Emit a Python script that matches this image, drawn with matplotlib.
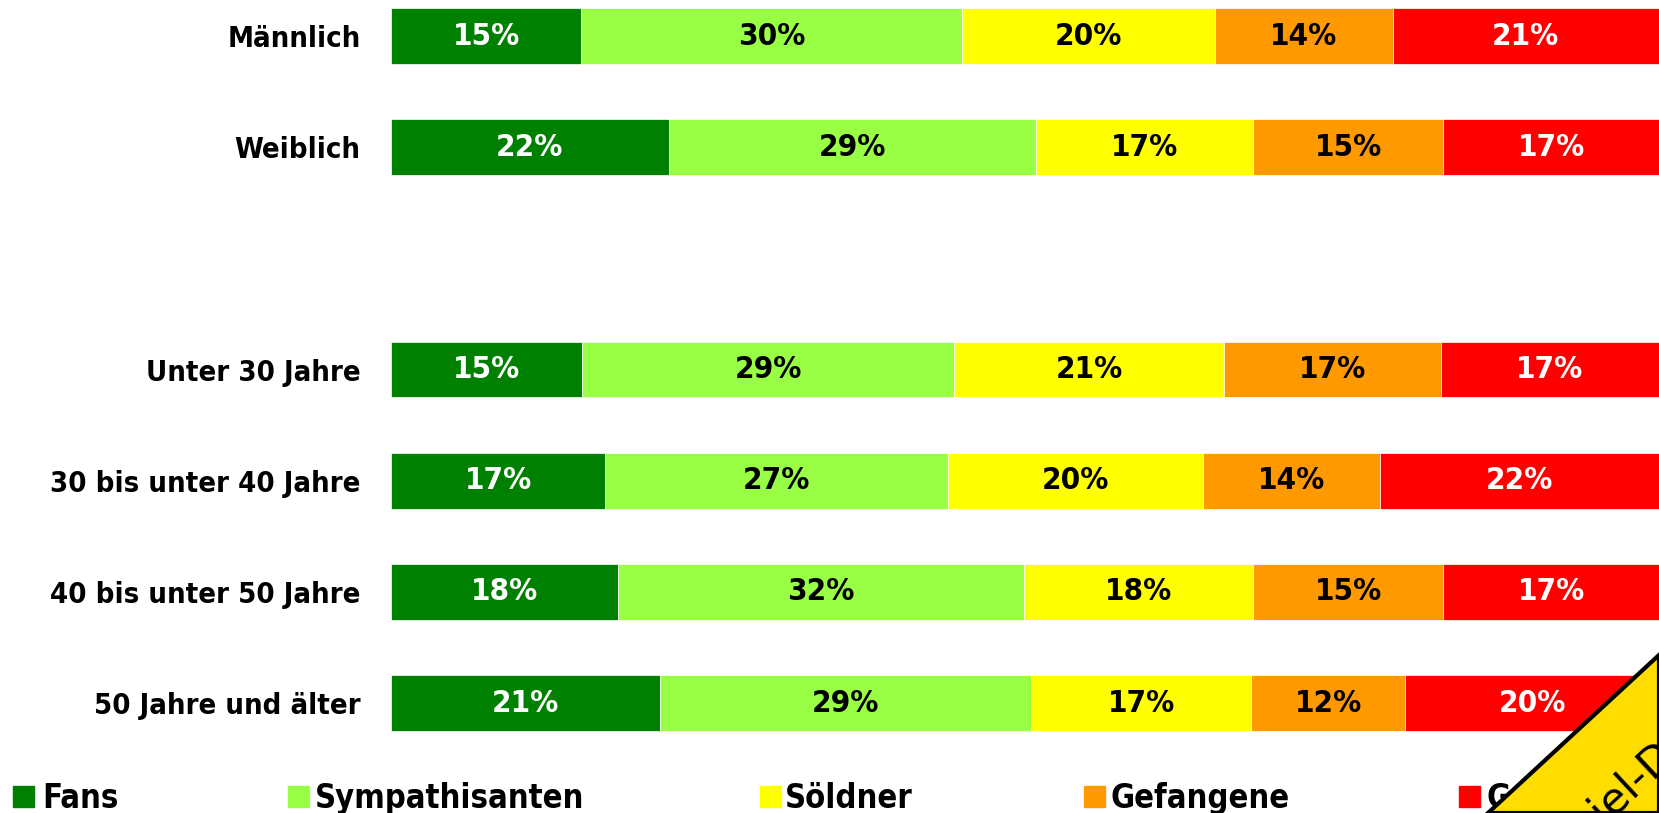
import matplotlib.pyplot as plt
from matplotlib.patches import Rectangle, Polygon
import numpy as np

plt.rcParams['font.family'] = ['DejaVu Sans']
plt.rcParams['font.stretch'] = 'condensed'

# data
groups = ["Männlich", "Weiblich", "Unter 30 Jahre", "30 bis unter 40 Jahre",
          "40 bis unter 50 Jahre", "50 Jahre und älter"]
slots = [0, 1, 3, 4, 5, 6]   # one empty row between gender and age
series = ["Fans", "Sympathisanten", "Söldner", "Gefangene", "Gegner"]
fans = [15.0, 21.9, 15.1, 16.9, 17.9, 21.2]
sympathisanten = [30.0, 29.0, 29.3, 27.0, 32.0, 29.3]
soeldner = [20.0, 17.1, 21.3, 20.1, 18.1, 17.3]
gefangene = [14.0, 15.0, 17.1, 14.0, 15.0, 12.2]
gegner = [21.0, 17.0, 17.2, 22.0, 17.0, 20.0]

colors = ['#008000', '#99FF44', '#FFFF00', '#FF9900', '#FF0000']
txtcol = ['white', 'black', 'black', 'black', 'white']

W, H = 1659, 813
fig = plt.figure(figsize=(W / 100, H / 100), dpi=100)
ax = fig.add_axes([391 / W, 0, 1 - 391 / W, 1])

values = np.array([fans, sympathisanten, soeldner, gefangene, gegner])
left = np.zeros(len(groups))
for i, name in enumerate(series):
    bars = ax.barh(slots, values[i], left=left, height=0.5, color=colors[i],
                   edgecolor='white', linewidth=0.5, label=name)
    for b, v in zip(bars, values[i]):
        ax.text(b.get_x() + b.get_width() / 2, b.get_y() + b.get_height() / 2,
                f"{round(v):d}%", ha='center', va='center', color=txtcol[i],
                fontsize=22.5, fontweight='bold')
    left += values[i]

ax.set_xlim(0, 100)
ax.set_ylim(6.988, -0.324)
ax.set_yticks(slots)
ax.set_yticklabels(groups, fontsize=21, fontweight='bold')
ax.tick_params(axis='y', length=0, pad=22)
ax.set_xticks([])
for s in ax.spines.values():
    s.set_visible(False)

# legend drawn by hand, cut at the bottom edge
leg_sq = [13, 288, 760, 1084, 1459]
leg_tx = [42, 315, 785, 1110, 1487]
for i, name in enumerate(series):
    fig.patches.append(Rectangle((leg_sq[i] / W, 1 - 807 / H), 21 / W, 21 / H,
                                 transform=fig.transFigure, color=colors[i], zorder=5))
    fig.text(leg_tx[i] / W, 1 - 808 / H, name, fontsize=23.5, fontweight='bold',
             va='baseline', ha='left', zorder=5)

# watermark ribbon in the corner
rib = Polygon([(1488 / W, 0), (1.0, 1 - 655 / H), (1.0, 0)], closed=True,
              transform=fig.transFigure, facecolor='#FFDD00', edgecolor='black',
              linewidth=3, zorder=10)
fig.patches.append(rib)
fig.text(1625 / W, 1 - 788 / H, "Beispiel-Daten", rotation=43, fontsize=31,
         fontstretch='normal', fontweight='normal',
         ha='center', va='center', rotation_mode='anchor', zorder=11)

fig.savefig("out.png", dpi=100)
